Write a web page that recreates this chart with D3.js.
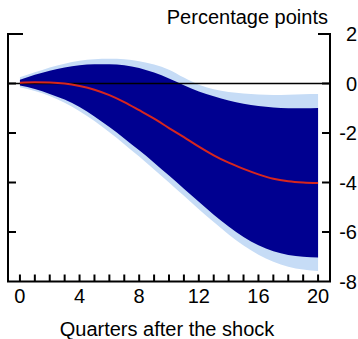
<!DOCTYPE html>
<html>
<head>
<meta charset="utf-8">
<script src="https://cdn.jsdelivr.net/npm/d3@7"></script>
<style>
  html, body { margin: 0; padding: 0; background: #fff; }
  svg text { font-family: "Liberation Sans", Arial, sans-serif; fill: #000; }
</style>
</head>
<body>
<svg width="358" height="339"></svg>
<script>
// quarters after the shock
let quarters = d3.range(0, 21);
// median response (percentage points)
let median = [0.03, 0.05, 0.04, 0.0, -0.1, -0.25, -0.47, -0.75, -1.08, -1.42, -1.8, -2.17, -2.55, -2.9, -3.2, -3.45, -3.67, -3.85, -3.95, -4.0, -4.02];
// inner band
let innerUpper = [0.15, 0.35, 0.52, 0.65, 0.74, 0.78, 0.78, 0.74, 0.63, 0.44, 0.2, -0.07, -0.32, -0.52, -0.69, -0.82, -0.91, -0.97, -1.0, -1.0, -0.99];
let innerLower = [-0.08, -0.22, -0.42, -0.65, -0.95, -1.33, -1.76, -2.22, -2.7, -3.2, -3.72, -4.25, -4.78, -5.3, -5.78, -6.2, -6.54, -6.78, -6.93, -7.0, -7.03];
// outer band
let outerUpper = [0.25, 0.45, 0.65, 0.8, 0.92, 0.98, 1.0, 0.98, 0.9, 0.77, 0.56, 0.24, -0.05, -0.23, -0.34, -0.4, -0.44, -0.46, -0.45, -0.43, -0.42];
let outerLower = [-0.15, -0.3, -0.5, -0.78, -1.12, -1.52, -1.97, -2.45, -2.95, -3.47, -4.0, -4.54, -5.08, -5.6, -6.1, -6.55, -6.92, -7.2, -7.4, -7.52, -7.58];
let yTicks = [2, 0, -2, -4, -6, -8];
let xLabels = [0, 4, 8, 12, 16, 20];

let svg = d3.select('svg');
let plotLeft = 8, plotRight = 330, plotTop = 34, plotBottom = 281.5;

let x = d3.scaleLinear().domain([-0.8, 20.8]).range([plotLeft, plotRight]);
let y = d3.scaleLinear().domain([-8, 2]).range([plotBottom, plotTop]);

let band = (hi, lo) => d3.area()
                .x((d, i) => x(quarters[i]))
                .y0((d, i) => y(lo[i]))
                .y1((d, i) => y(hi[i]))
                .curve(d3.curveMonotoneX)(quarters);

svg.append('path').attr('d', band(outerUpper, outerLower)).attr('fill', '#c6dcf6');
svg.append('path').attr('d', band(innerUpper, innerLower)).attr('fill', '#000090');

// zero line
svg.append('line')
                .attr('x1', plotLeft).attr('x2', plotRight)
                .attr('y1', y(0)).attr('y2', y(0))
                .attr('stroke', '#000').attr('stroke-width', 1.5);

let line = d3.line()
                .x((d, i) => x(quarters[i]))
                .y(d => y(d))
                .curve(d3.curveMonotoneX);
svg.append('path').attr('d', line(median))
                .attr('fill', 'none').attr('stroke', '#d7261e').attr('stroke-width', 2);

// frame: left, right and bottom axes
let axes = svg.append('g').attr('stroke', '#000').attr('stroke-width', 2).attr('fill', 'none');
axes.append('path').attr('d', `M${plotLeft + 15},${plotTop}H${plotLeft}V${plotBottom}H${plotRight}V${plotTop}H${plotRight - 12}`);

// y ticks on both sides
yTicks.filter(v => v !== 2 && v !== -8).forEach(v => {
    axes.append('line').attr('x1', plotLeft).attr('x2', plotLeft + 8).attr('y1', y(v)).attr('y2', y(v));
    axes.append('line').attr('x1', plotRight - 8).attr('x2', plotRight).attr('y1', y(v)).attr('y2', y(v));
});
// x ticks
quarters.forEach(q => {
    axes.append('line').attr('x1', x(q)).attr('x2', x(q)).attr('y1', plotBottom).attr('y2', plotBottom - 7);
});

svg.append('g').selectAll('text')
                .data(yTicks)
                .join('text')
                .attr('x', 357)
                .attr('y', d => y(d))
                .attr('dy', '0.35em')
                .attr('text-anchor', 'end')
                .attr('font-size', 20)
                .text(d => d);

svg.append('g').selectAll('text')
                .data(xLabels)
                .join('text')
                .attr('x', d => x(d))
                .attr('y', 303)
                .attr('text-anchor', 'middle')
                .attr('font-size', 20)
                .text(d => d);

svg.append('text').attr('x', 328).attr('y', 24).attr('text-anchor', 'end')
                .attr('font-size', 20).text('Percentage points');
svg.append('text').attr('x', 167).attr('y', 336).attr('text-anchor', 'middle')
                .attr('font-size', 20).text('Quarters after the shock');
</script>
</body>
</html>
